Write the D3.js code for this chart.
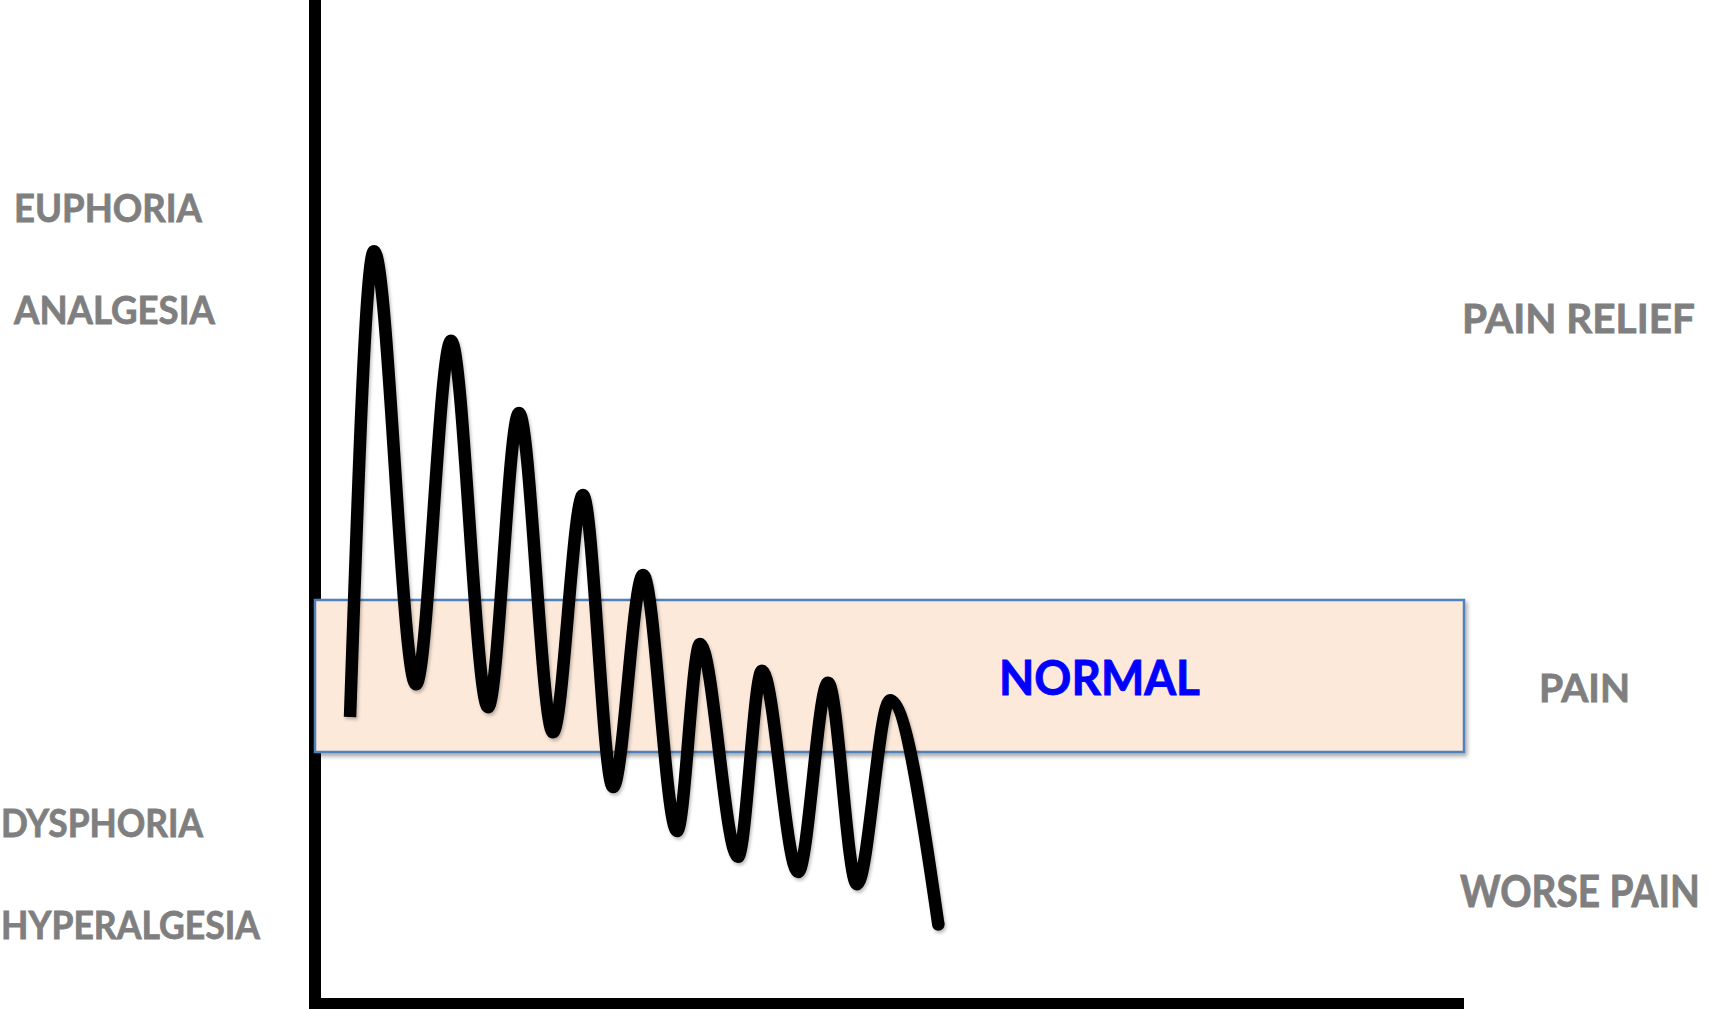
<!DOCTYPE html>
<html>
<head>
<meta charset="utf-8">
<script src="https://cdn.jsdelivr.net/npm/d3@7"></script>
<style>
  html, body { margin: 0; padding: 0; background: #ffffff; overflow: hidden; }
  svg { display: block; }
  text { font-family: Lato, "Open Sans", "Noto Sans", sans-serif; font-weight: 700; }
</style>
</head>
<body>
<svg id="chart" width="1710" height="1009"></svg>
<script>
// ---- data ----
const timeValues   = [3.05, 5.13, 8.79, 11.84, 15.06, 17.75, 20.71, 23.32, 25.94, 28.55, 31.51, 33.51, 36.81, 38.90, 42.04, 44.65, 47.17, 50.04, 54.25];
const effectValues = [-0.54, 5.59, -0.11, 4.41, -0.41, 3.46, -0.74, 2.38, -1.46, 1.33, -2.04, 0.42, -2.38, 0.07, -2.58, -0.09, -2.74, -0.32, -3.27];
const normalBand   = [-1, 1];
const bandLabel    = "NORMAL";
const leftLabels   = ["EUPHORIA", "ANALGESIA", "DYSPHORIA", "HYPERALGESIA"];
const rightLabels  = ["PAIN RELIEF", "PAIN", "WORSE PAIN"];

const svg = d3.select("#chart");

const x = d3.scaleLinear().domain([0, 100]).range([315, 1464]);
const y = d3.scaleLinear().domain([-4.316, 8.895]).range([1004, 0]);

const defs = svg.append("defs");
defs.append("filter").attr("id", "boxShadow").attr("x", "-5%").attr("y", "-20%").attr("width", "110%").attr("height", "150%")
  .append("feDropShadow").attr("dx", 2).attr("dy", 3).attr("stdDeviation", 2)
  .attr("flood-color", "#000").attr("flood-opacity", 0.35);
defs.append("filter").attr("id", "lineShadow").attr("x", "-10%").attr("y", "-10%").attr("width", "120%").attr("height", "120%")
  .append("feDropShadow").attr("dx", 1.5).attr("dy", 2.5).attr("stdDeviation", 1.8)
  .attr("flood-color", "#000").attr("flood-opacity", 0.25);

// axes (no ticks) drawn with the scales
svg.append("line")
  .attr("x1", x(0)).attr("x2", x(0))
  .attr("y1", y(y.domain()[1])).attr("y2", y(y.domain()[0]) + 6)
  .attr("stroke", "#000").attr("stroke-width", 12);
svg.append("line")
  .attr("x1", x(0) - 6).attr("x2", x(100))
  .attr("y1", y(y.domain()[0])).attr("y2", y(y.domain()[0]))
  .attr("stroke", "#000").attr("stroke-width", 12);

// normal band
svg.append("rect")
  .attr("x", x(0)).attr("y", y(normalBand[1]))
  .attr("width", x(100) - x(0)).attr("height", y(normalBand[0]) - y(normalBand[1]))
  .attr("fill", "#FCE9DA").attr("stroke", "#4F81BD").attr("stroke-width", 2.5)
  .attr("filter", "url(#boxShadow)");

// helper: place a text so that its natural width is scaled to a target width
function fitText(sel, px, py, w) {
  const nat = sel.node().getComputedTextLength() || w;
  sel.attr("x", 0).attr("y", 0)
     .attr("transform", `translate(${px},${py}) scale(${w / nat},1)`);
}

const normalText = svg.append("text")
  .attr("font-size", 48).attr("fill", "#0000FF")
  .attr("stroke", "#0000FF").attr("stroke-width", 0.9)
  .text(bandLabel);
fitText(normalText, 999, 695, 201);

// oscillating curve
const pts = timeValues.map((t, i) => [t, effectValues[i]]);
const line = d3.line().x(d => x(d[0])).y(d => y(d[1])).curve(d3.curveMonotoneX);
const curveG = svg.append("g").attr("filter", "url(#lineShadow)");
curveG.append("path")
  .datum(pts)
  .attr("d", line)
  .attr("fill", "none").attr("stroke", "#000").attr("stroke-width", 12.5)
  .attr("stroke-linejoin", "round").attr("stroke-linecap", "butt");
// rounded end of the curve
const last = pts[pts.length - 1];
curveG.append("circle")
  .attr("cx", x(last[0])).attr("cy", y(last[1])).attr("r", 6.25)
  .attr("fill", "#000");

// side labels
const grey = "#7F7F7F";
const leftPos = [
  {x: 14, y: 222, w: 188, fs: 38},
  {x: 14, y: 324, w: 201, fs: 38},
  {x: 1,  y: 837, w: 202, fs: 38},
  {x: 1,  y: 939, w: 259, fs: 38}
];
svg.selectAll("text.left").data(leftLabels).join("text")
  .attr("class", "left")
  .attr("font-size", (d, i) => leftPos[i].fs).attr("fill", grey)
  .attr("stroke", grey).attr("stroke-width", 0.8)
  .text(d => d)
  .each(function (d, i) { fitText(d3.select(this), leftPos[i].x, leftPos[i].y, leftPos[i].w); });

const rightPos = [
  {x: 1462, y: 333, w: 233, fs: 41},
  {x: 1539, y: 702, w: 91,  fs: 39},
  {x: 1460, y: 907, w: 240, fs: 43}
];
svg.selectAll("text.right").data(rightLabels).join("text")
  .attr("class", "right")
  .attr("font-size", (d, i) => rightPos[i].fs).attr("fill", grey)
  .attr("stroke", grey).attr("stroke-width", 0.8)
  .text(d => d)
  .each(function (d, i) { fitText(d3.select(this), rightPos[i].x, rightPos[i].y, rightPos[i].w); });
</script>
</body>
</html>
